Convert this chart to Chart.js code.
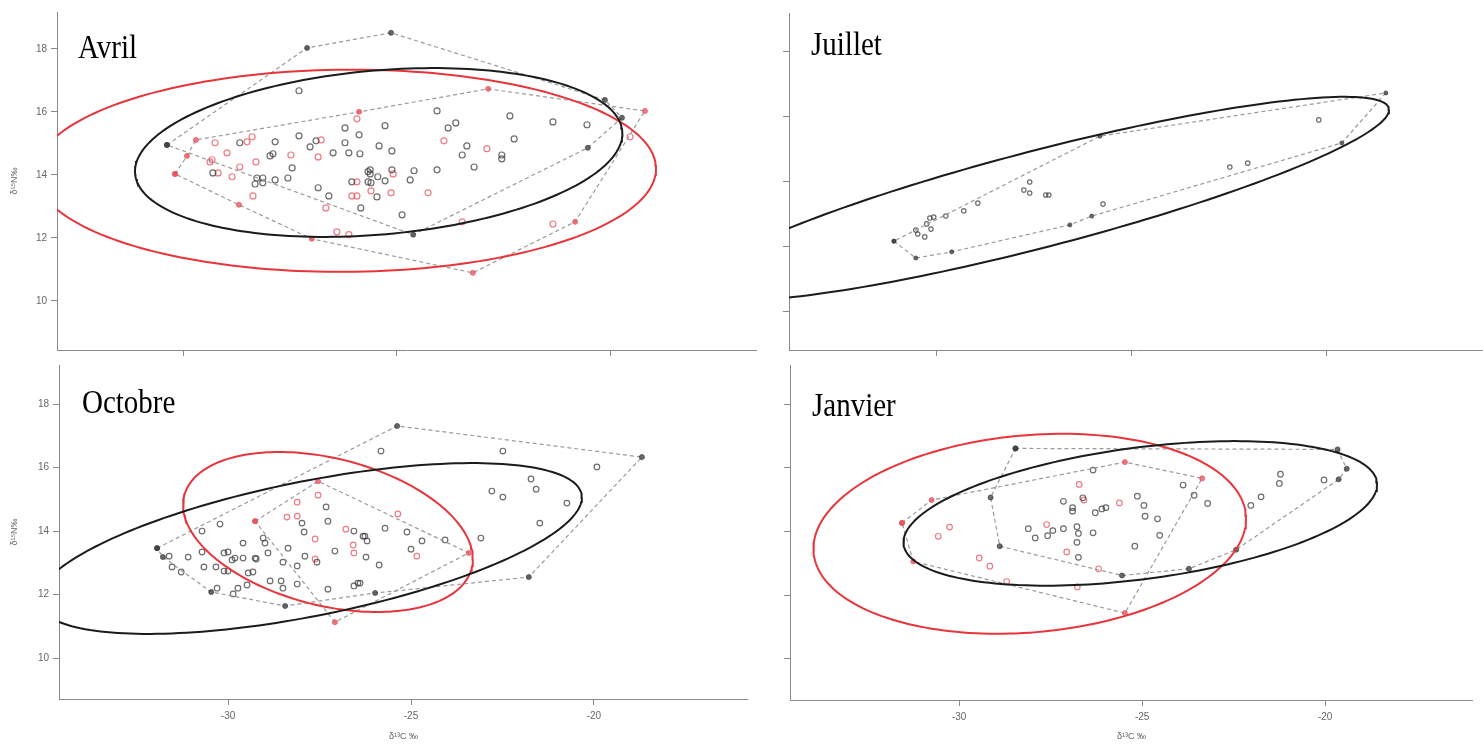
<!DOCTYPE html>
<html>
<head>
<meta charset="utf-8">
<script src="https://cdn.jsdelivr.net/npm/chart.js@4.4.1/dist/chart.umd.min.js"></script>
<style>
  body { margin: 0; background: #fff; }
  #page { position: relative; width: 1483px; height: 747px; overflow: hidden; background: #fff; }
  canvas { position: absolute; }
  .month {
    position: absolute;
    font-family: "Liberation Serif", "Times New Roman", serif;
    font-size: 29px;
    line-height: 29px;
    color: #000;
    transform: scaleY(1.15);
    transform-origin: 0 0;
  }
</style>
</head>
<body>
<div id="page">
  <canvas id="avril" width="757" height="363" style="left:0;top:12px"></canvas>
  <canvas id="juillet" width="724" height="362" style="left:759px;top:13px"></canvas>
  <canvas id="octobre" width="748" height="382" style="left:0;top:365px"></canvas>
  <canvas id="janvier" width="713" height="382" style="left:760px;top:365px"></canvas>
  <div class="month" style="left:78px;top:30px">Avril</div>
  <div class="month" style="left:811px;top:27px">Juillet</div>
  <div class="month" style="left:82px;top:385px">Octobre</div>
  <div class="month" style="left:812px;top:388px">Janvier</div>
</div>
<script>
// tick values shared by every panel
const xTicks = [-30, -25, -20];
const yTicks = [10, 12, 14, 16, 18];

// ellipses: [centre d13C, centre d15N, half width, half height, tilt]
// Avril
const avrilBlack = [[-27.30,16.67],[-26.22,15.49],[-25.89,15.27],[-27.30,15.24],[-28.69,15.02],[-27.86,15.05],[-27.04,14.89],[-26.90,15.08],[-26.50,14.70],[-26.22,15.02],[-26.13,14.70],[-25.87,14.67],[-27.98,14.60],[-27.91,14.67],[-29.32,14.06],[-27.46,14.22],[-28.29,13.90],[-28.15,13.90],[-28.15,13.75],[-28.33,13.71],[-27.86,13.84],[-27.56,13.90],[-26.85,13.59],[-26.60,13.33],[-26.06,13.78],[-25.85,12.95],[-25.68,14.10],[-25.68,13.78],[-24.06,16.03],[-25.28,15.56],[-23.80,15.49],[-23.62,15.65],[-22.35,15.87],[-21.34,15.68],[-20.54,15.59],[-22.25,15.14],[-23.36,14.92],[-25.42,14.92],[-25.12,14.76],[-23.47,14.63],[-22.54,14.63],[-22.54,14.51],[-23.19,14.25],[-25.63,14.16],[-25.63,14.03],[-25.45,13.94],[-25.28,13.81],[-25.61,13.75],[-25.12,14.16],[-24.60,14.13],[-24.06,14.16],[-24.69,13.84],[-25.47,13.30],[-24.88,12.73]];
const avrilRed = [[-29.27,15.02],[-28.99,14.70],[-29.34,14.48],[-29.39,14.41],[-29.20,14.06],[-28.87,13.94],[-28.69,14.25],[-28.52,15.05],[-28.40,15.21],[-28.31,14.41],[-28.38,13.33],[-27.49,14.63],[-26.85,14.57],[-26.78,15.11],[-25.94,15.78],[-25.94,13.78],[-26.06,13.33],[-25.94,13.33],[-26.41,12.19],[-26.13,12.10],[-26.67,12.95],[-23.90,15.08],[-22.89,14.83],[-25.09,14.03],[-25.61,13.49],[-25.14,13.43],[-24.27,13.43],[-21.34,12.44],[-19.53,15.21],[-23.47,12.51]];
const avrilHullBlack = [[-30.40,14.95],[-27.11,18.03],[-25.14,18.51],[-20.12,16.38],[-19.72,15.81],[-20.52,14.86],[-24.62,12.10]];
const avrilHullRed = [[-30.21,14.03],[-29.93,14.60],[-29.72,15.11],[-25.89,16.00],[-22.86,16.73],[-19.18,16.03],[-20.82,12.51],[-23.22,10.89],[-27.00,11.97],[-28.71,13.05]];
const avrilEllBlack = [-25.43, 14.71, 5.72, 2.68, 0.226];
const avrilEllRed = [-26.20, 14.13, 7.28, 3.21, 0.02];

// Juillet
const juilletBlack = [[-30.54,12.49],[-30.49,12.37],[-30.31,12.28],[-30.26,12.68],[-30.15,12.52],[-30.18,12.86],[-30.08,12.89],[-29.77,12.92],[-29.31,13.08],[-28.95,13.32],[-27.77,13.72],[-27.62,13.97],[-27.62,13.63],[-27.21,13.57],[-27.13,13.57],[-25.74,13.29],[-22.49,14.43],[-22.03,14.55],[-20.21,15.88]];
const juilletHull = [[-31.10,12.15],[-30.54,11.63],[-29.62,11.82],[-26.59,12.65],[-26.03,12.92],[-19.62,15.17],[-18.49,16.71],[-25.82,15.38]];
const juilletEll = [-27.36, 13.45, 8.95, 3.14, 1.06];

// Octobre
const octobreBlack = [[-31.61,13.21],[-31.53,12.87],[-31.28,12.71],[-31.09,13.18],[-30.71,13.34],[-30.71,14.00],[-30.66,12.87],[-30.30,12.20],[-30.22,14.22],[-30.33,12.87],[-30.11,13.31],[-30.00,13.34],[-30.00,12.74],[-30.11,12.74],[-29.89,13.09],[-29.86,12.02],[-29.81,13.15],[-29.73,12.20],[-29.59,13.62],[-29.59,13.15],[-29.48,12.30],[-29.45,12.68],[-29.32,12.71],[-29.26,13.15],[-29.23,13.12],[-29.04,13.78],[-28.99,13.62],[-28.91,13.31],[-28.85,12.43],[-28.55,12.43],[-28.50,13.02],[-28.50,12.20],[-28.36,13.46],[-28.11,12.90],[-28.11,12.33],[-27.98,14.25],[-27.92,13.97],[-27.90,13.21],[-27.57,13.02],[-27.32,14.76],[-27.27,14.31],[-27.08,13.37],[-27.27,12.17],[-26.56,14.00],[-26.56,12.27],[-26.45,12.36],[-26.31,13.84],[-26.20,13.69],[-25.82,16.52],[-22.49,16.52],[-19.92,16.02],[-21.72,15.64],[-21.58,15.32],[-22.79,15.26],[-22.49,15.07],[-20.74,14.88],[-21.48,14.25],[-23.09,13.78],[-24.07,13.72],[-25.71,14.09],[-25.11,13.97],[-26.26,13.84],[-24.70,13.69],[-25.00,13.43],[-26.23,13.18],[-25.87,12.93],[-26.39,12.36]];
const octobreRed = [[-28.39,14.44],[-28.11,14.91],[-28.11,14.47],[-27.54,15.13],[-27.62,13.75],[-27.62,13.12],[-26.78,14.06],[-26.58,13.56],[-26.56,13.31],[-25.36,14.54],[-24.84,13.21]];
const octobreHullBlack = [[-31.94,13.46],[-25.38,17.31],[-18.69,16.33],[-21.78,12.55],[-25.98,12.05],[-28.44,11.64],[-30.46,12.08],[-31.78,13.18]];
const octobreHullRed = [[-29.26,14.31],[-27.54,15.57],[-23.42,13.31],[-27.08,11.13]];
const octobreEllBlack = [-27.76, 13.45, 7.43, 2.69, 0.639];
const octobreEllRed = [-27.27, 13.97, 3.96, 2.52, -0.344];

// Janvier
const janvierBlack = [[-27.15,14.95],[-26.90,14.75],[-26.90,14.64],[-26.62,15.06],[-26.34,15.93],[-26.28,14.59],[-26.10,14.71],[-25.99,14.75],[-25.13,15.11],[-24.95,14.82],[-24.92,14.48],[-24.58,14.40],[-24.52,13.88],[-25.20,13.54],[-23.88,15.46],[-23.58,15.14],[-23.21,14.88],[-22.03,14.82],[-21.75,15.09],[-21.25,15.51],[-21.22,15.80],[-20.03,15.62],[-28.11,14.09],[-27.92,13.80],[-27.58,13.87],[-27.44,14.03],[-27.15,14.09],[-26.78,14.15],[-26.74,13.94],[-26.78,13.66],[-26.74,13.19],[-26.34,13.96]];
const janvierRed = [[-30.26,14.14],[-30.57,13.85],[-29.45,13.17],[-29.16,12.91],[-28.70,12.43],[-27.61,14.22],[-27.06,13.36],[-26.72,15.48],[-26.59,14.99],[-26.77,12.26],[-26.19,12.83],[-25.62,14.90]];
const janvierHullBlack = [[-28.46,16.61],[-19.66,16.58],[-19.41,15.97],[-19.63,15.64],[-22.43,13.43],[-23.72,12.83],[-25.55,12.62],[-28.89,13.54],[-29.14,15.07]];
const janvierHullRed = [[-31.56,14.27],[-30.75,14.99],[-25.47,16.18],[-23.36,15.67],[-25.47,11.44],[-31.25,13.06]];
const janvierEllBlack = [-25.05, 14.57, 6.47, 2.27, 0.41];
const janvierEllRed = [-28.07, 13.93, 5.91, 3.14, 0.15];

const BLACK_PT = 'rgba(60,60,60,0.75)';
const RED_PT = 'rgba(232,80,92,0.75)';
const HULL = '#9a9a9a';
const AXIS = '#8a8a8a';

function toXY(arr) {
    return arr.map(p => ({x: p[0], y: p[1]}));
}

function ellipsePath(e) {
    const [cx, cy, rx, ry, tilt] = e;
    const pts = [];
    for (let i = 0; i <= 200; i++) {
        const t = i / 200 * 2 * Math.PI;
        pts.push({x: cx + rx * Math.cos(t), y: cy + ry * Math.sin(t + tilt)});
    }
    return pts;
}

function pointSet(arr, color, r) {
    return {
        data: toXY(arr), showLine: false, order: 3,
        pointRadius: r, pointBorderWidth: 1.2,
        pointBorderColor: color, pointBackgroundColor: 'rgba(0,0,0,0)'
    };
}

function hullSet(arr, color, r) {
    const d = toXY(arr);
    d.push(d[0]);
    return {
        data: d, showLine: true, order: 2, borderColor: HULL, borderWidth: 1.2,
        borderDash: [4, 3], tension: 0, fill: false,
        pointRadius: r, pointBorderWidth: 1, pointBorderColor: color,
        pointBackgroundColor: color
    };
}

function ellipseSet(e, color) {
    return {
        data: ellipsePath(e), showLine: true, order: 1, borderColor: color,
        borderWidth: 2, tension: 0, fill: false, pointRadius: 0
    };
}

function noPad(s) {
    s.paddingTop = 0;
    s.paddingBottom = 0;
    s.paddingLeft = 0;
    s.paddingRight = 0;
}

function axes(p) {
    const tickFont = {family: 'Liberation Sans', size: 10};
    return {
        x: {
            type: 'linear', min: p.x[0], max: p.x[1],
            afterBuildTicks: s => { s.ticks = xTicks.map(v => ({value: v})); },
            afterFit: s => { s.height = p.xh; noPad(s); },
            grid: {drawOnChartArea: false, drawTicks: true, tickLength: 6, color: AXIS},
            border: {color: AXIS, width: 1},
            ticks: {display: p.xLabels, color: '#666', font: tickFont, padding: 5, maxRotation: 0, callback: v => String(v)},
            title: {display: p.xLabels, text: 'δ¹³C ‰', color: '#666', font: {family: 'Liberation Sans', size: 9}, padding: {top: 0, bottom: 5}}
        },
        y: {
            type: 'linear', min: p.y[0], max: p.y[1],
            afterBuildTicks: s => { s.ticks = yTicks.map(v => ({value: v})); },
            afterFit: s => { s.width = p.yw; noPad(s); },
            grid: {drawOnChartArea: false, drawTicks: true, tickLength: 6, color: AXIS},
            border: {color: AXIS, width: 1},
            ticks: {display: p.yLabels, color: '#666', font: tickFont, padding: 4, callback: v => String(v)},
            title: {display: p.yLabels, text: 'δ¹⁵N‰', color: '#666', font: {family: 'Liberation Sans', size: 9}, padding: {top: 9, bottom: 0}}
        }
    };
}

function drawPanel(id, p, datasets) {
    const ctx = document.getElementById(id).getContext('2d');
    return new Chart(ctx, {
        type: 'scatter',
        data: {datasets: datasets},
        options: {
            responsive: false, animation: false,
            layout: {padding: 0, autoPadding: false},
            plugins: {legend: {display: false}, tooltip: {enabled: false}},
            scales: axes(p)
        }
    });
}

drawPanel('avril', {x: [-32.98, -16.55], y: [8.44, 19.17], yw: 57, xh: 25, xLabels: false, yLabels: true}, [
    ellipseSet(avrilEllBlack, '#1b1b1b'),
    ellipseSet(avrilEllRed, '#e8353c'),
    hullSet(avrilHullBlack, BLACK_PT, 2.5),
    hullSet(avrilHullRed, RED_PT, 2.5),
    pointSet(avrilBlack, BLACK_PT, 3),
    pointSet(avrilRed, RED_PT, 3)
]);

drawPanel('juillet', {x: [-33.79, -16.0], y: [8.80, 19.17], yw: 30, xh: 25, xLabels: false, yLabels: false}, [
    ellipseSet(juilletEll, '#1b1b1b'),
    hullSet(juilletHull, BLACK_PT, 2),
    pointSet(juilletBlack, BLACK_PT, 2.2)
]);

drawPanel('octobre', {x: [-34.62, -15.79], y: [8.71, 19.23], yw: 59, xh: 48, xLabels: true, yLabels: true}, [
    ellipseSet(octobreEllBlack, '#1b1b1b'),
    ellipseSet(octobreEllRed, '#e8353c'),
    hullSet(octobreHullBlack, BLACK_PT, 2.5),
    hullSet(octobreHullRed, RED_PT, 2.5),
    pointSet(octobreBlack, BLACK_PT, 2.8),
    pointSet(octobreRed, RED_PT, 2.8)
]);

drawPanel('janvier', {x: [-34.62, -15.96], y: [8.71, 19.23], yw: 30, xh: 47, xLabels: true, yLabels: false}, [
    ellipseSet(janvierEllBlack, '#1b1b1b'),
    ellipseSet(janvierEllRed, '#e8353c'),
    hullSet(janvierHullBlack, BLACK_PT, 2.5),
    hullSet(janvierHullRed, RED_PT, 2.5),
    pointSet(janvierBlack, BLACK_PT, 2.8),
    pointSet(janvierRed, RED_PT, 2.8)
]);
</script>
</body>
</html>
